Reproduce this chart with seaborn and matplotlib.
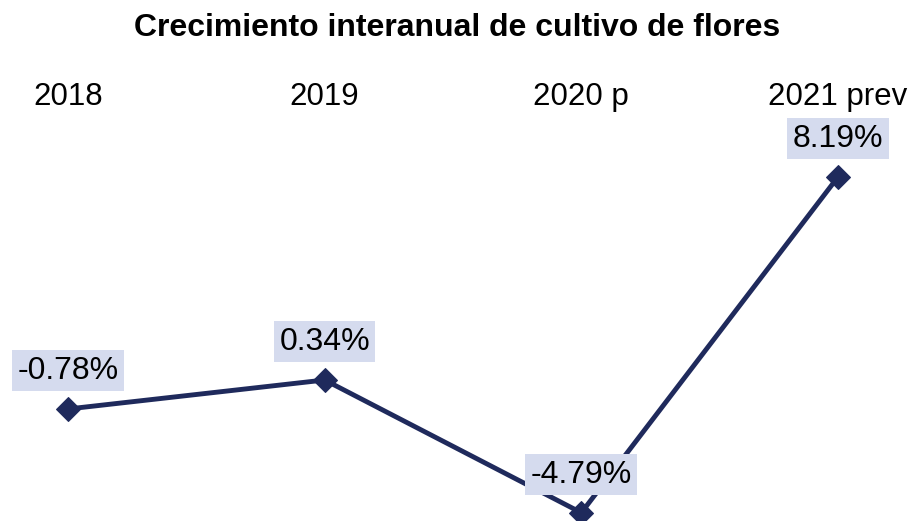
import pandas as pd
import numpy as np
import matplotlib.pyplot as plt
import seaborn as sns

# Datos del gráfico
periodos = ['2018', '2019', '2020 p', '2021 prev']
crecimiento = [-0.78, 0.34, -4.79, 8.19]
etiquetas = ['-0.78%', '0.34%', '-4.79%', '8.19%']

color_linea = '#1f2a5c'
color_caja = '#d5dbee'

sns.set_style('white')
plt.rcParams['font.family'] = ['Liberation Sans', 'DejaVu Sans']
plt.rcParams['text.color'] = 'black'
plt.rcParams['xtick.color'] = 'black'

df = pd.DataFrame({'periodo': periodos, 'crecimiento': crecimiento})
df['x'] = np.arange(len(df))

fig = plt.figure(figsize=(9.15, 5.21), dpi=100)
ax = fig.add_axes([0, 0, 1, (521 - 120) / 521])

sns.lineplot(data=df, x='x', y='crecimiento', ax=ax, color=color_linea,
             linewidth=3.5, marker='D', markersize=12, markeredgecolor=color_linea,
             markerfacecolor=color_linea, clip_on=False)

for xi, yi, txt in zip(df['x'], df['crecimiento'], etiquetas):
    ax.annotate(txt, (xi, yi), xytext=(0, 27.5), textcoords='offset points',
                ha='center', va='center', fontsize=23, color='black', zorder=5,
                bbox=dict(boxstyle='square,pad=0.17', fc=color_caja, ec='none'))

ax.set_xlim(-0.2649, 3.300)
ax.set_ylim(-5.11, 10.39)
ax.xaxis.tick_top()
ax.set_xticks(df['x'])
ax.set_xticklabels(periodos, fontsize=22.5, color='black')
ax.tick_params(axis='x', length=0, pad=6)
ax.set_yticks([])
ax.set_xlabel('')
ax.set_ylabel('')
for s in ax.spines.values():
    s.set_visible(False)

fig.text(0.5, 1 - 28 / 521, 'Crecimiento interanual de cultivo de flores',
         ha='center', va='center', fontsize=23, weight='bold', color='black')

fig.savefig('out.png', dpi=100)
